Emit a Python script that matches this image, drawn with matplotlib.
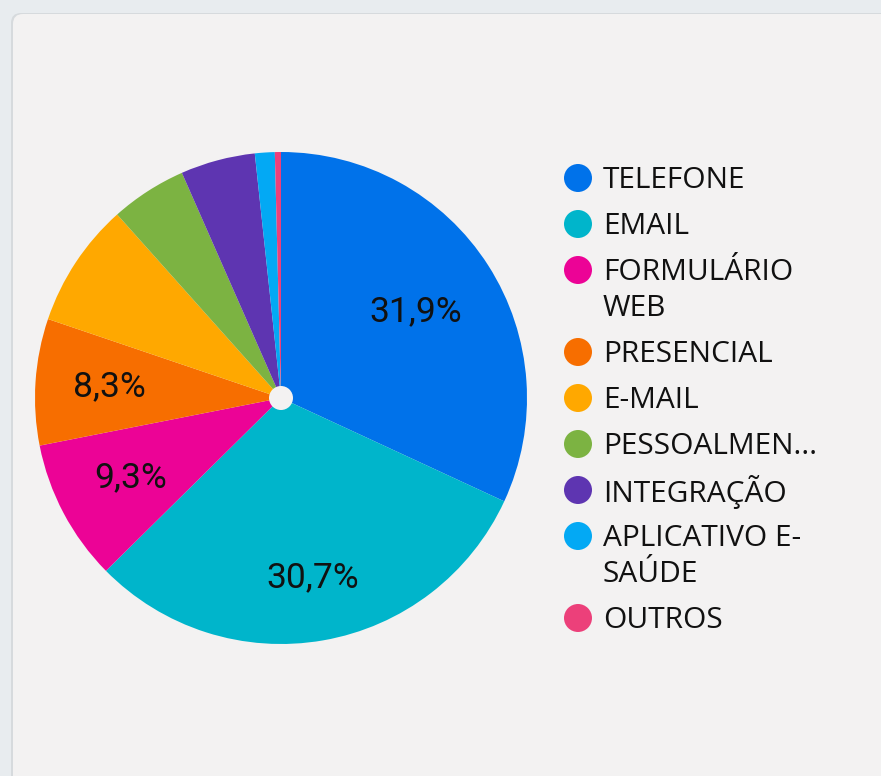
import matplotlib.pyplot as plt
from matplotlib.patches import FancyBboxPatch, Circle
import numpy as np

# --- data ---
categories = ["TELEFONE", "EMAIL", "FORMULÁRIO\nWEB", "PRESENCIAL", "E-MAIL",
              "PESSOALMEN...", "INTEGRAÇÃO", "APLICATIVO E-\nSAÚDE", "OUTROS"]
shares = [31.9, 30.7, 9.3, 8.3, 8.2, 5.0, 4.9, 1.3, 0.4]
colors = ["#0072EA", "#00B5CB", "#EC0396", "#F76E00", "#FFA800",
          "#7CB342", "#5E35B1", "#03A9F4", "#EC407A"]

W, H = 881, 776
fig = plt.figure(figsize=(W / 100, H / 100), dpi=100)
fig.patch.set_facecolor("#E8ECEF")
ax = fig.add_axes([0, 0, 1, 1])

# card background with soft shadow
ax.add_patch(FancyBboxPatch((11, -40), W + 40, H - 12 + 40 - 1,
                            boxstyle="round,pad=0,rounding_size=10",
                            fc="#D6DADD", ec="none", zorder=0))
ax.add_patch(FancyBboxPatch((13, -40), W + 40, H - 13 + 40 - 1,
                            boxstyle="round,pad=0,rounding_size=10",
                            fc="#F3F2F2", ec="none", zorder=0))

cx, cy, r = 281, H - 398, 246

wedges, _ = ax.pie(shares, colors=colors, startangle=90, counterclock=False,
                   center=(cx, cy), radius=r, frame=True,
                   wedgeprops=dict(linewidth=0))
ax.set_xlim(0, W)
ax.set_ylim(0, H)
ax.set_aspect("equal")
ax.axis("off")

# percentage labels for the bigger slices
label_dist = [0.65, 0.74, 0.69, 0.70]
for w, p, d in zip(wedges, shares, label_dist):
    mid = np.deg2rad((w.theta1 + w.theta2) / 2)
    ax.text(cx + d * r * np.cos(mid), cy + d * r * np.sin(mid),
            f"{p:.1f}%".replace(".", ","), fontsize=25.5, family="Roboto",
            color="#111111", ha="center", va="center", zorder=6)

# small hole in the middle
ax.add_patch(Circle((cx, cy), 12, fc="#F3F2F2", ec="none", zorder=5))

# legend drawn by hand
leg_y = [178, 224, 270, 352, 398, 444, 490, 536, 618]
for lab, col, y in zip(categories, colors, leg_y):
    ax.add_patch(Circle((578, H - y), 14, fc=col, ec="none", zorder=5))
    for k, line in enumerate(lab.split("\n")):
        ax.text(603, H - y - 2 - 36 * k, line, fontsize=21.5, family="Open Sans",
                color="#111111", va="center", zorder=6)

fig.savefig("out.png", dpi=100, facecolor=fig.get_facecolor())
